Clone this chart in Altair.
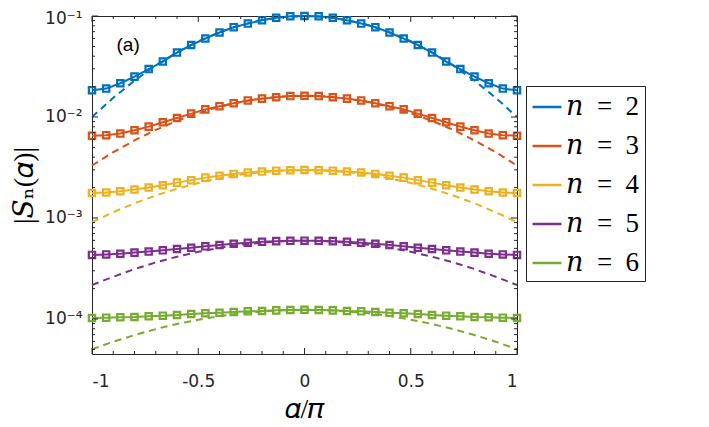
import altair as alt
import pandas as pd

# ---------------- data ----------------
series_names = ["n = 2", "n = 3", "n = 4", "n = 5", "n = 6"]
series_colors = ["#0072BD", "#D95319", "#EDB120", "#7E2F8E", "#77AC30"]

alpha_solid = [-1.0, -0.9333, -0.8667, -0.8, -0.7333, -0.6667, -0.6, -0.5333,
               -0.4667, -0.4, -0.3333, -0.2667, -0.2, -0.1333, -0.0667, 0.0,
               0.0667, 0.1333, 0.2, 0.2667, 0.3333, 0.4, 0.4667, 0.5333,
               0.6, 0.6667, 0.7333, 0.8, 0.8667, 0.9333, 1.0]

s2 = [0.0184, 0.0191, 0.0216, 0.0251, 0.0298, 0.0354, 0.0434, 0.0516, 0.0598, 0.0686,
      0.0775, 0.0841, 0.0908, 0.0962, 0.0993, 0.1000, 0.0993, 0.0962, 0.0908, 0.0841,
      0.0775, 0.0686, 0.0598, 0.0516, 0.0434, 0.0354, 0.0298, 0.0251, 0.0216, 0.0191, 0.0184]
s3 = [0.00652, 0.00661, 0.00685, 0.00739, 0.00803, 0.00887, 0.00978, 0.0108, 0.0119, 0.0128,
      0.0137, 0.0146, 0.0152, 0.0157, 0.0161, 0.0162, 0.0161, 0.0157, 0.0152, 0.0146,
      0.0137, 0.0128, 0.0119, 0.0108, 0.00978, 0.00887, 0.00803, 0.00739, 0.00685, 0.00661, 0.00652]
s4 = [0.00177, 0.00179, 0.00184, 0.00191, 0.00200, 0.00211, 0.00224, 0.00237, 0.00251, 0.00262,
      0.00273, 0.00282, 0.00288, 0.00294, 0.00297, 0.00299, 0.00297, 0.00294, 0.00288, 0.00282,
      0.00273, 0.00262, 0.00251, 0.00237, 0.00224, 0.00211, 0.00200, 0.00191, 0.00184, 0.00179, 0.00177]
s5 = [0.000431, 0.000436, 0.000443, 0.000454, 0.000465, 0.000478, 0.000493, 0.000508, 0.000524, 0.000540,
      0.000556, 0.000569, 0.000582, 0.000590, 0.000594, 0.000596, 0.000594, 0.000590, 0.000582, 0.000569,
      0.000556, 0.000540, 0.000524, 0.000508, 0.000493, 0.000478, 0.000465, 0.000454, 0.000443, 0.000436, 0.000431]
s6 = [0.0001023, 0.0001030, 0.0001040, 0.0001047, 0.0001064, 0.0001079, 0.0001095, 0.0001120, 0.0001138, 0.0001153,
      0.0001172, 0.0001190, 0.0001198, 0.0001217, 0.0001226, 0.0001233, 0.0001226, 0.0001217, 0.0001198, 0.0001190,
      0.0001172, 0.0001153, 0.0001138, 0.0001120, 0.0001095, 0.0001079, 0.0001064, 0.0001047, 0.0001040, 0.0001030, 0.0001023]

alpha_dash = [-1.0, -0.9, -0.8, -0.7, -0.6, -0.5, -0.4, -0.3, -0.2, -0.1, 0.0,
              0.1, 0.2, 0.3, 0.4, 0.5, 0.6, 0.7, 0.8, 0.9, 1.0]

d2 = [0.0100, 0.0155, 0.0229, 0.0324, 0.0437, 0.0562, 0.0692, 0.0813, 0.0912, 0.0977, 0.1000,
      0.0977, 0.0912, 0.0813, 0.0692, 0.0562, 0.0437, 0.0324, 0.0229, 0.0155, 0.0100]
d3 = [0.00331, 0.00448, 0.00586, 0.00745, 0.00916, 0.0109, 0.0126, 0.0141, 0.0152, 0.0160, 0.0162,
      0.0160, 0.0152, 0.0141, 0.0126, 0.0109, 0.00916, 0.00745, 0.00586, 0.00448, 0.00331]
d4 = [0.00091, 0.00114, 0.00140, 0.00167, 0.00195, 0.00222, 0.00247, 0.00269, 0.00285, 0.00295, 0.00299,
      0.00295, 0.00285, 0.00269, 0.00247, 0.00222, 0.00195, 0.00167, 0.00140, 0.00114, 0.00091]
d5 = [0.000217, 0.000262, 0.000312, 0.000363, 0.000414, 0.000462, 0.000507, 0.000543, 0.000571, 0.000590, 0.000596,
      0.000590, 0.000571, 0.000543, 0.000507, 0.000462, 0.000414, 0.000363, 0.000312, 0.000262, 0.000217]
d6 = [0.0000501, 0.0000596, 0.0000693, 0.0000794, 0.0000893, 0.0000984, 0.0001069, 0.0001138, 0.0001189, 0.0001222, 0.0001233,
      0.0001222, 0.0001189, 0.0001138, 0.0001069, 0.0000984, 0.0000893, 0.0000794, 0.0000693, 0.0000596, 0.0000501]

x_major = [-1.0, -0.5, 0.0, 0.5, 1.0]
x_minor = [-0.9, -0.8, -0.7, -0.6, -0.4, -0.3, -0.2, -0.1, 0.1, 0.2, 0.3, 0.4, 0.6, 0.7, 0.8, 0.9]
y_major = [1e-4, 1e-3, 1e-2, 1e-1]
y_minor = [5e-5, 6e-5, 7e-5, 8e-5, 9e-5,
           2e-4, 3e-4, 4e-4, 5e-4, 6e-4, 7e-4, 8e-4, 9e-4,
           2e-3, 3e-3, 4e-3, 5e-3, 6e-3, 7e-3, 8e-3, 9e-3,
           2e-2, 3e-2, 4e-2, 5e-2, 6e-2, 7e-2, 8e-2, 9e-2]
y_domain = [4.5e-5, 0.1]

panel_label = "(a)"
panel_x = -0.83
panel_y = 0.052

# ---------------- tables ----------------
solid_df = pd.DataFrame([
    {"series": name, "alpha": a, "v": v}
    for name, vals in zip(series_names, [s2, s3, s4, s5, s6])
    for a, v in zip(alpha_solid, vals)
])
dash_df = pd.DataFrame([
    {"series": name, "alpha": a, "v": v}
    for name, vals in zip(series_names, [d2, d3, d4, d5, d6])
    for a, v in zip(alpha_dash, vals)
])

W, H = 425, 338
INK = "#262626"
SERIF = "Liberation Serif, DejaVu Serif, serif"

xscale = alt.Scale(domain=[-1, 1], nice=False, zero=False)
yscale = alt.Scale(type="log", domain=y_domain, nice=False)
cscale = alt.Scale(domain=series_names, range=series_colors)

x_label_expr = ("datum.value == -1 ? '-1' : datum.value == -0.5 ? '-0.5' : "
                "datum.value == 0 ? '0' : datum.value == 0.5 ? '0.5' : '1'")
y_label_expr = ("datum.value > 0.05 ? '10\u207b\u00b9' : datum.value > 0.005 ? '10\u207b\u00b2' : "
                "datum.value > 0.0005 ? '10\u207b\u00b3' : '10\u207b\u2074'")

x_axis = alt.Axis(values=x_major, labelExpr=x_label_expr, title="\U0001D6FC/\U0001D70B",
                  labelPadding=19, titlePadding=6)
y_axis = alt.Axis(values=y_major, labelExpr=y_label_expr, title="|\U0001D446\u2099(\U0001D6FC)|",
                  labelPadding=10, titlePadding=6,
                  labelOffset={"condition": {"test": "datum.value > 0.05", "value": 2}, "value": 0})
legend = alt.Legend(
    title=None, orient="none", legendX=434, legendY=70,
    symbolType="stroke", symbolSize=841, symbolStrokeWidth=2.5, symbolDash=[1, 0],
    labelFont=SERIF, labelFontSize=27, labelColor="black",
    labelExpr="replace(replace(datum.label, 'n', '\U0001D45B'), ' = ', '\u2002=\u2002')",
    labelOffset=3, labelLimit=300,
    strokeColor=INK, padding=5, rowPadding=10, fillColor="white",
)

def X(field):
    return alt.X(field, scale=xscale, axis=x_axis)

def Y(field):
    return alt.Y(field, scale=yscale, axis=y_axis)

color = alt.Color("series:N", scale=cscale, legend=legend)

dashed = alt.Chart(dash_df).mark_line(strokeDash=[7, 5], strokeWidth=2).encode(
    x=X("alpha:Q"), y=Y("v:Q"), color=color,
)
solid = alt.Chart(solid_df).mark_line(strokeWidth=2).encode(
    x=X("alpha:Q"), y=Y("v:Q"), color=color,
)
points = alt.Chart(solid_df).mark_point(shape="square", filled=False, size=40, strokeWidth=2.2, opacity=1).encode(
    x=X("alpha:Q"), y=Y("v:Q"), color=color,
)

label = alt.Chart(pd.DataFrame({"alpha": [panel_x], "v": [panel_y], "t": [panel_label]})).mark_text(
    font="Liberation Sans", fontSize=19, color="black", align="center", baseline="middle"
).encode(x=X("alpha:Q"), y=Y("v:Q"), text="t:N")

tick_style = dict(color=INK, strokeWidth=1)
xmaj_df = pd.DataFrame({"alpha": x_major})
xmin_df = pd.DataFrame({"alpha": x_minor})
ymaj_df = pd.DataFrame({"v": y_major})
ymin_df = pd.DataFrame({"v": y_minor})

def xticks(df, length):
    bottom = alt.Chart(df).mark_rule(**tick_style).encode(
        x=X("alpha:Q"), y=alt.value(H), y2=alt.value(H - length))
    top = alt.Chart(df).mark_rule(**tick_style).encode(
        x=X("alpha:Q"), y=alt.value(0), y2=alt.value(length))
    return [bottom, top]

def yticks(df, length):
    left = alt.Chart(df).mark_rule(**tick_style).encode(
        y=Y("v:Q"), x=alt.value(0), x2=alt.value(length))
    right = alt.Chart(df).mark_rule(**tick_style).encode(
        y=Y("v:Q"), x=alt.value(W), x2=alt.value(W - length))
    return [left, right]

tick_layers = xticks(xmaj_df, 6) + xticks(xmin_df, 3) + yticks(ymaj_df, 6) + yticks(ymin_df, 3)

chart = alt.layer(
    dashed, solid, points, label, *tick_layers
).properties(
    width=W, height=H,
    autosize=alt.AutoSizeParams(type="none"),
    padding={"left": 84, "top": 8, "right": 180, "bottom": 72},
).configure_view(
    stroke=INK, strokeWidth=1
).configure_axis(
    grid=False, domain=False, ticks=False,
    labelFont="DejaVu Sans", labelFontSize=17, labelColor=INK,
    titleFont=SERIF, titleFontSize=28, titleFontWeight="normal",
    titleColor="black",
)

chart.save("out.html", embed_options={"renderer": "svg", "actions": False})
